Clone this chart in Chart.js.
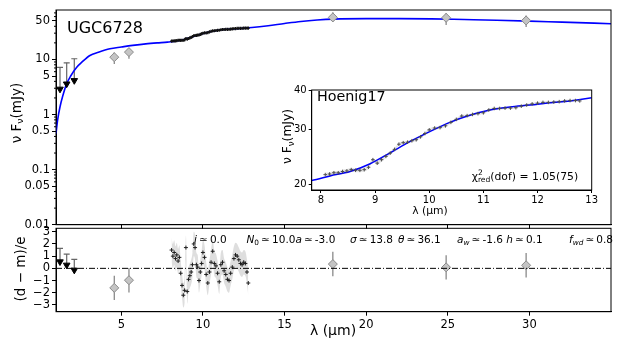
<!DOCTYPE html>
<html lang="en">
<head>
<meta charset="UTF-8">
<title>UGC6728 SED</title>
<script src="https://cdn.jsdelivr.net/npm/chart.js"></script>
<style>
  body { margin: 0; background: #fff; }
  #wrap { position: relative; width: 623px; height: 346px; }
  #wrap canvas { position: absolute; left: 0; top: 0; }
</style>
</head>
<body>
<div id="wrap">
  <canvas id="top" width="623" height="346"></canvas>
  <canvas id="res" width="623" height="346"></canvas>
  <canvas id="inset" width="623" height="346"></canvas>
</div>
<script>
// model SED (mJy)
const modelX = [1.0, 1.1, 1.25, 1.4, 1.65, 1.9, 2.27, 2.6, 3.08, 3.6, 4.3, 5.0, 5.7, 6.5, 7.2, 7.83, 8.17, 8.54, 8.91, 9.27, 9.64, 10.01, 10.38, 10.75, 11.12, 11.49, 11.86, 12.23, 12.6, 13.0, 14, 15, 16, 17, 18, 20, 22, 24, 26, 28, 30, 32, 35];
const modelF = [0.45, 0.8, 1.4, 2.1, 3.6, 5.0, 7.2, 9.0, 11.8, 13.5, 15.6, 16.8, 18.0, 19.2, 20.0, 20.6, 21.3, 22.0, 23.3, 25.2, 27.4, 29.5, 31.6, 33.3, 34.6, 35.4, 35.9, 36.5, 37.0, 37.9, 41, 45, 49, 52, 54, 55, 55, 54.5, 53, 51.5, 49.7, 47.5, 44.6];

// Spitzer spectrum (Hoenig17)
const specX = [8.08, 8.16, 8.24, 8.32, 8.40, 8.48, 8.56, 8.64, 8.72, 8.80, 8.88, 8.96, 9.04, 9.12, 9.20, 9.28, 9.36, 9.44, 9.52, 9.60, 9.68, 9.76, 9.84, 9.92, 10.00, 10.10, 10.20, 10.30, 10.40, 10.50, 10.60, 10.70, 10.80, 10.90, 11.00, 11.10, 11.20, 11.30, 11.40, 11.50, 11.60, 11.70, 11.80, 11.90, 12.00, 12.10, 12.20, 12.30, 12.40, 12.50, 12.60, 12.70, 12.78];
const specF = [21.5, 21.6, 21.8, 21.8, 22.0, 22.1, 22.3, 22.2, 22.2, 22.3, 22.7, 24.0, 23.4, 24.0, 24.6, 25.2, 25.9, 26.9, 27.2, 27.3, 27.6, 27.8, 28.4, 29.1, 29.9, 30.3, 30.4, 30.8, 31.6, 32.3, 33.1, 33.2, 33.5, 33.7, 33.9, 34.6, 35.0, 35.0, 35.1, 35.1, 35.2, 35.6, 35.9, 36.2, 36.4, 36.6, 36.6, 36.7, 36.8, 37.0, 37.1, 37.1, 37.0];
const specRes = [1.5, 1.0, 1.3, 0.8, 1.1, 0.6, 0.9, -0.4, -1.4, -2.2, -1.8, 1.7, -1.9, -0.9, -0.6, -0.3, 0.3, 2.0, 1.7, 0.3, 0.1, -1.0, -0.3, 0.4, 1.3, 0.9, -0.5, -1.2, -0.3, 0.5, 1.4, 0.4, 0.2, -0.4, -1.1, 0.3, 0.5, -0.2, -0.5, -0.9, -1.0, -0.4, 0.1, 0.8, 1.1, 1.0, 0.7, 0.4, 0.3, 0.5, 0.4, -0.3, -1.2];
const specErr = 0.3;

// photometry
const photX = [4.57, 5.47, 17.96, 24.9, 29.8];
const photF = [11.0, 13.6, 58, 57, 51];
const photLo = [8.3, 10.3, 48, 42, 39];
const photHi = [13.3, 16.0, 72, 70, 63];
const photRes = [-1.6, -0.97, 0.35, 0.08, 0.25];

// upper limits
const ulX = [1.245, 1.655, 2.12];
const ulF = [2.9, 3.6, 4.15];
const ulCap = [7.2, 8.7, 10.3];
const ulRes = [0.54, 0.27, -0.14];
const ulResCap = [1.64, 1.17, 0.74];

// axes
const xMin = 1, xMax = 35;
const xTicks = [5, 10, 15, 20, 25, 30];
const fluxTicks = [0.01, 0.05, 0.1, 0.5, 1, 5, 10, 50];
const resTicks = [-3, -2, -1, 0, 1, 2, 3];
const insetXTicks = [8, 9, 10, 11, 12, 13];
const insetYTicks = [20, 30, 40];

Chart.defaults.font.family = "'DejaVu Sans', sans-serif";
Chart.defaults.color = '#000';

const pts = (xs, ys) => xs.map((x, i) => ({ x: x, y: ys[i] }));
const minus = v => v < 0 ? '\u2212' + Math.abs(v) : String(v);

// draw mixed text: segs = [[text, style]] style: i=italic s=sub p=super 0=no advance
function richText(ctx, segs, x, y, size, align, rot) {
  const fontOf = st => (st.includes('i') ? 'italic ' : '') + (/[sp]/.test(st) ? size * 0.7 : size) + "px 'DejaVu Sans'";
  ctx.save();
  ctx.translate(x, y);
  if (rot) ctx.rotate(rot);
  let w = 0;
  segs.forEach(([t, st = '']) => { ctx.font = fontOf(st); if (!st.includes('0')) w += ctx.measureText(t).width; });
  let cx = align === 'center' ? -w / 2 : 0;
  ctx.textBaseline = 'middle';
  ctx.textAlign = 'left';
  ctx.fillStyle = '#000';
  segs.forEach(([t, st = '']) => {
    ctx.font = fontOf(st);
    const dy = st.includes('s') ? size * 0.28 : st.includes('p') ? -size * 0.38 : 0;
    ctx.fillText(t, cx, dy);
    if (!st.includes('0')) cx += ctx.measureText(t).width;
  });
  ctx.restore();
}

const texts = {
  id: 'texts',
  afterDraw(chart, args, opts) {
    (opts.items || []).forEach(it => richText(chart.ctx, it.segs, it.x, it.y, it.size, it.align, it.rot));
  }
};

const frame = {
  id: 'frame',
  afterDraw(chart, args, opts) {
    const { ctx, chartArea: a } = chart;
    ctx.save();
    ctx.strokeStyle = '#000';
    ctx.lineWidth = 1;
    ctx.strokeRect(a.left, a.top, a.right - a.left, a.bottom - a.top);
    const y = chart.scales.y;
    (opts.minor || []).forEach(v => {
      const py = y.getPixelForValue(v);
      ctx.beginPath(); ctx.moveTo(a.left - 2, py); ctx.lineTo(a.left, py); ctx.stroke();
    });
    ctx.restore();
  }
};

const errorBars = {
  id: 'errorBars',
  beforeDatasetsDraw(chart) {
    const { ctx, chartArea: a, scales: { x, y } } = chart;
    ctx.save();
    ctx.beginPath(); ctx.rect(a.left, a.top, a.right - a.left, a.bottom - a.top); ctx.clip();
    chart.data.datasets.forEach(ds => {
      if (!ds.errLo) return;
      ctx.strokeStyle = ds.errColor || '#808080';
      ctx.lineWidth = 1.2;
      ds.data.forEach((p, i) => {
        const px = x.getPixelForValue(p.x);
        const y1 = y.getPixelForValue(ds.errLo[i]), y2 = y.getPixelForValue(ds.errHi[i]);
        ctx.beginPath(); ctx.moveTo(px, y1); ctx.lineTo(px, y2); ctx.stroke();
        if (ds.capTop) { ctx.beginPath(); ctx.moveTo(px - 3, y2); ctx.lineTo(px + 3, y2); ctx.stroke(); }
      });
    });
    ctx.restore();
  }
};

const axisGrid = len => ({ display: true, drawOnChartArea: false, color: '#000', tickColor: '#000', tickLength: len });
const common = {
  responsive: false, animation: false, events: [],
  plugins: { legend: { display: false }, tooltip: { enabled: false } }
};

const minorFlux = [];
[0.01, 0.1, 1, 10].forEach(d => { for (let k = 2; k <= 9; k++) if (k !== 5 && d * k < 79) minorFlux.push(d * k); });

// ---- top panel ----
new Chart(document.getElementById('top'), {
  type: 'line',
  data: {
    datasets: [
      { data: pts(modelX, modelF), borderColor: '#0000ff', borderWidth: 1.6, pointRadius: 0, cubicInterpolationMode: 'monotone', order: 3 },
      { data: pts(specX, specF), showLine: false, pointStyle: 'cross', pointRadius: 1.6, borderColor: '#111', borderWidth: 1.3, order: 1 },
      { data: pts(photX, photF), showLine: false, pointStyle: 'rectRot', pointRadius: 4.5, backgroundColor: '#c4c4c4', borderColor: '#8a8a8a', borderWidth: 1, errLo: photLo, errHi: photHi, order: 2 },
      { data: pts(ulX, ulF), showLine: false, pointStyle: 'triangle', rotation: 180, pointRadius: 3.8, backgroundColor: '#000', borderColor: '#000', borderWidth: 1, errLo: ulF, errHi: ulCap, capTop: true, errColor: '#666', order: 2 }
    ]
  },
  options: {
    ...common,
    layout: { padding: { top: 10, right: 12, left: 0, bottom: 0 } },
    plugins: {
      ...common.plugins,
      frame: { minor: minorFlux },
      texts: { items: [
        { segs: [['UGC6728']], x: 67, y: 29, size: 16 },
        { segs: [['\u03bd F'], ['\u03bd', 's'], ['(mJy)']], x: 17, y: 113, size: 13.5, align: 'center', rot: -Math.PI / 2 }
      ] }
    },
    scales: {
      x: { type: 'linear', min: xMin, max: xMax, grid: axisGrid(4), border: { color: '#000' },
        afterBuildTicks: s => { s.ticks = xTicks.map(v => ({ value: v })); },
        ticks: { display: false }, afterFit: s => { s.height = 346 - 224.7; } },
      y: { type: 'logarithmic', min: 0.01, max: 79, grid: axisGrid(4), border: { color: '#000' },
        afterBuildTicks: s => { s.ticks = fluxTicks.map(v => ({ value: v })); },
        ticks: { autoSkip: false, padding: 2, font: { size: 11.5 }, callback: v => String(v) },
        afterFit: s => { s.width = 56; } }
    }
  },
  plugins: [errorBars, frame, texts]
});

// ---- residual panel ----
new Chart(document.getElementById('res'), {
  type: 'line',
  data: {
    datasets: [
      { data: pts(specX, specRes.map(r => r + 1)), borderWidth: 0, pointRadius: 0, fill: '+1', backgroundColor: 'rgba(0,0,0,0.13)', cubicInterpolationMode: 'monotone' },
      { data: pts(specX, specRes.map(r => r - 1)), borderWidth: 0, pointRadius: 0, fill: false, cubicInterpolationMode: 'monotone' },
      { data: [{ x: xMin, y: 0 }, { x: xMax, y: 0 }], borderColor: '#000', borderWidth: 1, borderDash: [6, 2, 1, 2], pointRadius: 0 },
      { data: pts(specX, specRes), showLine: false, pointStyle: 'cross', pointRadius: 2, borderColor: '#222', borderWidth: 1 },
      { data: pts(photX, photRes), showLine: false, pointStyle: 'rectRot', pointRadius: 4.5, backgroundColor: '#c4c4c4', borderColor: '#8a8a8a', borderWidth: 1, errLo: photRes.map(r => r - 1), errHi: photRes.map(r => r + 1) },
      { data: pts(ulX, ulRes), showLine: false, pointStyle: 'triangle', rotation: 180, pointRadius: 3.8, backgroundColor: '#000', borderColor: '#000', borderWidth: 1, errLo: ulRes, errHi: ulResCap, capTop: true, errColor: '#666' }
    ]
  },
  options: {
    ...common,
    layout: { padding: { top: 228.3, right: 12, left: 0, bottom: 0 } },
    plugins: {
      ...common.plugins,
      texts: { items: [
        { segs: [['(d \u2212 m)/e']], x: 21, y: 269, size: 13.5, align: 'center', rot: -Math.PI / 2 },
        { segs: [['\u03bb (\u00b5m)']], x: 333, y: 331, size: 14, align: 'center' },
        { segs: [['i', 'i'], ['\u2009\u2243\u20090.0']], x: 194, y: 240, size: 10.5 },
        { segs: [['N', 'i'], ['0', 's'], ['\u2009\u2243\u200910.0'], ['a', 'i'], ['\u2009\u2243\u2009-3.0']], x: 246.5, y: 240, size: 10.5 },
        { segs: [['\u03c3', 'i'], ['\u2009\u2243\u200913.8']], x: 350, y: 240, size: 10.5 },
        { segs: [['\u03b8', 'i'], ['\u2009\u2243\u200936.1']], x: 398, y: 240, size: 10.5 },
        { segs: [['a', 'i'], ['w', 'is'], ['\u2009\u2243\u2009-1.6 '], ['h', 'i'], ['\u2009\u2243\u20090.1']], x: 457, y: 240, size: 10.5 },
        { segs: [['f', 'i'], ['wd', 'is'], ['\u2009\u2243\u20090.8']], x: 569, y: 240, size: 10.5 }
      ] }
    },
    scales: {
      x: { type: 'linear', min: xMin, max: xMax, grid: axisGrid(4), border: { color: '#000' },
        afterBuildTicks: s => { s.ticks = xTicks.map(v => ({ value: v })); },
        ticks: { autoSkip: false, maxRotation: 0, padding: 2, font: { size: 11.5 } },
        afterFit: s => { s.height = 346 - 311.7; } },
      y: { type: 'linear', min: -3.55, max: 3.28, grid: axisGrid(4), border: { color: '#000' },
        afterBuildTicks: s => { s.ticks = resTicks.map(v => ({ value: v })); },
        ticks: { autoSkip: false, padding: 2, font: { size: 11.5 }, callback: v => minus(v) },
        afterFit: s => { s.width = 56; } }
    }
  },
  plugins: [errorBars, frame, texts]
});

// ---- inset ----
new Chart(document.getElementById('inset'), {
  type: 'line',
  data: {
    datasets: [
      { data: pts(specX, specF.map(f => f + specErr)), borderWidth: 0, pointRadius: 0, fill: '+1', backgroundColor: 'rgba(0,0,0,0.10)', cubicInterpolationMode: 'monotone' },
      { data: pts(specX, specF.map(f => f - specErr)), borderWidth: 0, pointRadius: 0, fill: false, cubicInterpolationMode: 'monotone' },
      { data: pts(specX, specF), showLine: false, pointStyle: 'cross', pointRadius: 1.8, borderColor: '#555', borderWidth: 1 },
      { data: pts(modelX, modelF), borderColor: '#0000ff', borderWidth: 1.5, pointRadius: 0, cubicInterpolationMode: 'monotone' }
    ]
  },
  options: {
    ...common,
    layout: { padding: { top: 90, right: 31.3, left: 281.7, bottom: 131 } },
    plugins: {
      ...common.plugins,
      texts: { items: [
        { segs: [['Hoenig17']], x: 317, y: 97.5, size: 14.3 },
        { segs: [['\u03c7'], ['2', 'p0'], ['red', 's'], ['(dof) = 1.05(75)']], x: 471.7, y: 177, size: 10.8 },
        { segs: [['\u03bd F'], ['\u03bd', 's'], ['(mJy)']], x: 288, y: 136.5, size: 12.3, align: 'center', rot: -Math.PI / 2 },
        { segs: [['\u03bb (\u00b5m)']], x: 430, y: 211, size: 10.8, align: 'center' }
      ] }
    },
    scales: {
      x: { type: 'linear', min: 7.83, max: 13, grid: axisGrid(3), border: { color: '#000' },
        afterBuildTicks: s => { s.ticks = insetXTicks.map(v => ({ value: v })); },
        ticks: { autoSkip: false, maxRotation: 0, padding: 1, font: { size: 10 } },
        afterFit: s => { s.height = 25; } },
      y: { type: 'logarithmic', min: 19.2, max: 40.1, grid: axisGrid(3), border: { color: '#000' },
        afterBuildTicks: s => { s.ticks = insetYTicks.map(v => ({ value: v })); },
        ticks: { autoSkip: false, padding: 2, font: { size: 10 }, callback: v => String(v) },
        afterFit: s => { s.width = 30; } }
    }
  },
  plugins: [errorBars, frame, texts]
});
</script>
</body>
</html>
